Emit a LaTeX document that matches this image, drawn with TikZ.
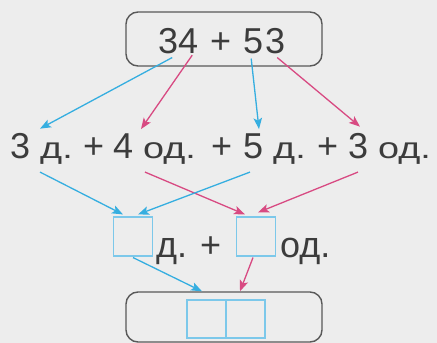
\documentclass[tikz,border=0pt]{standalone}
\usepackage{fontspec}
\setmainfont{Liberation Sans}
\usepackage{graphicx}
\usetikzlibrary{arrows.meta}
\definecolor{bg}{HTML}{EDEDED}
\definecolor{ink}{HTML}{3C3C3C}
\definecolor{tens}{HTML}{35AEE0}
\definecolor{ones}{HTML}{D84A82}
\definecolor{cell}{HTML}{7CC8EA}
\newcommand{\unit}[1]{\scalebox{1.05}[0.82]{#1}}

\begin{document}
\begin{tikzpicture}[x=1pt,y=-1pt,
  txt/.style={inner sep=0pt,anchor=base west,text=ink,font=\fontsize{36}{40}\selectfont},
  frame/.style={draw=ink!85,line width=1.4pt,rounded corners=12pt,minimum width=196pt},
  cellbox/.style={draw=cell,line width=1.1pt,minimum width=39pt,minimum height=39pt,inner sep=0pt},
  tensarrow/.style={color=tens,line width=1.3pt,-{Stealth[length=11pt,width=8.5pt,inset=2.5pt]}},
  onesarrow/.style={tensarrow,color=ones}]
\fill[bg] (0,0) rectangle (437,343);
\useasboundingbox (0,0) rectangle (437,343);

\node[frame,minimum height=54pt] (top) at (224,39) {};
\node[txt] (s1) at (158,53) {3};
\node[txt] (s2) at (178,53) {4};
\node[txt] (plusT) at (210,53) {+};
\node[txt] (s3) at (243,53) {5};
\node[txt] (s4) at (265,53) {3};

\node[txt] (tA) at (10,158) {3 \unit{д.}};
\node[txt] (pA) at (83,158) {+};
\node[txt] (tB) at (113,158) {4 \unit{од.}};
\node[txt] (pB) at (211,158) {+};
\node[txt] (tC) at (243,158) {5 \unit{д.}};
\node[txt] (pC) at (317,158) {+};
\node[txt] (tD) at (348,158) {3 \unit{од.}};

\node[cellbox] (b1) at (133,236.5) {};
\node[txt] (uE) at (156,257) {д.};
\node[txt] (pD) at (200,257) {+};
\node[cellbox] (b2) at (256,236.5) {};
\node[txt] (uF) at (280,257) {од.};

\node[frame,minimum height=50pt] (res) at (224,317) {};
\node[cellbox,minimum height=38pt] (c1) at (206.5,319) {};
\node[cellbox,minimum height=38pt] (c2) at (245.5,319) {};

\draw[tensarrow] ([shift={(4,4)}]s1.south) -- ([shift={(30,-4)}]tA.north west);
\draw[onesarrow] ([shift={(4,2)}]s2.south) -- ([shift={(28,-4)}]tB.north west);
\draw[tensarrow] ([shift={(-2,5)}]s3.south) -- ([shift={(16,-4)}]tC.north west);
\draw[onesarrow] ([shift={(2,4)}]s4.south) -- ([shift={(12,-6)}]tD.north west);

\draw[tensarrow] ([shift={(30,8)}]tA.south west) -- ([shift={(-10,-2)}]b1.north);
\draw[onesarrow] ([shift={(32,8)}]tB.south west) -- ([shift={(-11,-2)}]b2.north);
\draw[tensarrow] ([shift={(7,8)}]tC.south west) -- ([shift={(5,-2)}]b1.north);
\draw[onesarrow] ([shift={(10,8)}]tD.south west) -- ([shift={(2,-4)}]b2.north);

\draw[tensarrow] ([shift={(0,1)}]b1.south) -- ([shift={(-22,0)}]res.north);
\draw[onesarrow] ([shift={(-3,1)}]b2.south) -- ([shift={(16,0)}]res.north);
\end{tikzpicture}
\end{document}
